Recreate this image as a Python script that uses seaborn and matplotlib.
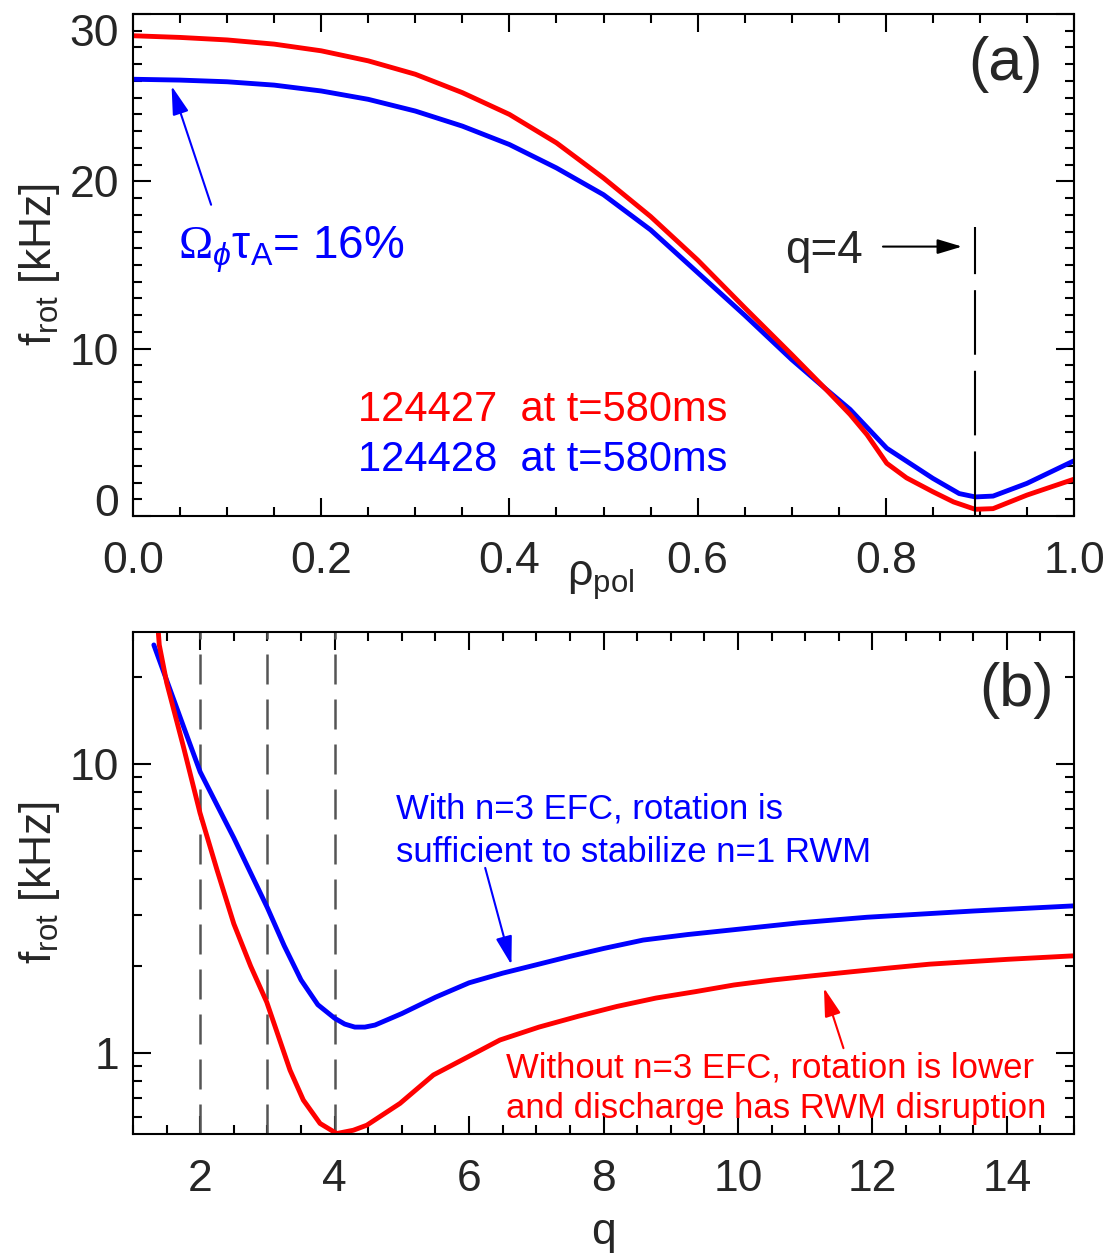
import numpy as np
import pandas as pd
import matplotlib
matplotlib.use("Agg")
import matplotlib.pyplot as plt
import seaborn as sns
from matplotlib.ticker import MultipleLocator, FuncFormatter, NullFormatter, LogLocator

# ---------------- Panel (a): f_rot vs rho_pol ----------------
rho_124427 = [0.00, 0.05, 0.10, 0.15, 0.20, 0.25, 0.30, 0.35, 0.40, 0.45, 0.50,
              0.55, 0.60, 0.65, 0.70, 0.735, 0.762, 0.780, 0.801, 0.822, 0.850,
              0.872, 0.895, 0.914, 0.950, 1.00]
f_124427 = [28.7, 28.6, 28.45, 28.2, 27.8, 27.2, 26.4, 25.3, 24.0, 22.3, 20.2,
            17.9, 15.3, 12.45, 9.65, 7.65, 6.07, 4.86, 3.15, 2.28, 1.45,
            0.84, 0.40, 0.44, 1.25, 2.2]
rho_124428 = [0.00, 0.05, 0.10, 0.15, 0.20, 0.25, 0.30, 0.35, 0.40, 0.45, 0.50,
              0.55, 0.60, 0.65, 0.70, 0.735, 0.762, 0.801, 0.850, 0.878, 0.895,
              0.914, 0.950, 1.00]
f_124428 = [26.1, 26.05, 25.95, 25.75, 25.4, 24.9, 24.2, 23.3, 22.2, 20.8, 19.2,
            17.1, 14.55, 12.0, 9.35, 7.65, 6.37, 4.05, 2.25, 1.34, 1.14,
            1.19, 1.95, 3.3]
rho_q4 = 0.895          # location of q=4 surface
q4_line_top = 17.3

# ---------------- Panel (b): f_rot vs q ----------------
q_124427 = [1.376, 1.391, 1.501, 1.749, 1.997, 2.25, 2.50, 2.75, 2.990, 3.336,
            3.534, 3.783, 4.031, 4.278, 4.478, 4.973, 5.469, 6.00, 6.46, 7.04,
            7.62, 8.20, 8.78, 9.36, 9.94, 10.52, 11.10, 11.68, 12.26, 12.85,
            13.43, 14.01, 15.00]
fq_124427 = [28.7, 25.8, 19.1, 11.5, 6.77, 4.3, 2.8, 2.0, 1.50, 0.873,
             0.688, 0.571, 0.527, 0.541, 0.563, 0.670, 0.840, 0.975, 1.11, 1.23,
             1.34, 1.45, 1.55, 1.63, 1.72, 1.79, 1.85, 1.91, 1.97, 2.03,
             2.07, 2.11, 2.17]
q_124428 = [1.31, 1.50, 1.75, 2.00, 2.25, 2.50, 2.75, 3.00, 3.25, 3.50, 3.75,
            4.00, 4.15, 4.30, 4.45, 4.60, 5.00, 5.50, 6.00, 6.50, 7.00, 7.50,
            8.00, 8.59, 9.25, 9.93, 10.90, 11.92, 13.50, 15.00]
fq_124428 = [25.8, 19.5, 13.5, 9.38, 7.21, 5.55, 4.20, 3.18, 2.35, 1.79, 1.47,
             1.32, 1.26, 1.23, 1.23, 1.25, 1.37, 1.56, 1.75, 1.89, 2.02, 2.16,
             2.30, 2.46, 2.57, 2.67, 2.82, 2.95, 3.10, 3.23]
rational_q = [2, 3, 4]

RED = "#ff0000"
BLUE = "#0000ff"

sns.set_style("ticks")
plt.rcParams["font.family"] = ["Liberation Sans", "DejaVu Sans"]
plt.rcParams["mathtext.fontset"] = "custom"
plt.rcParams["mathtext.rm"] = "Liberation Sans"
plt.rcParams["mathtext.it"] = "Liberation Sans:italic"
plt.rcParams["mathtext.cal"] = "Liberation Serif"
plt.rcParams["axes.linewidth"] = 1.5
plt.rcParams["axes.edgecolor"] = "black"

fig = plt.figure(figsize=(11.11, 12.53), dpi=100)
axA = fig.add_axes([0.11971, 0.58819, 0.84699, 0.40064])
axB = fig.add_axes([0.11971, 0.09497, 0.84699, 0.40064])

dfa27 = pd.DataFrame({"rho": rho_124427, "f": f_124427})
dfa28 = pd.DataFrame({"rho": rho_124428, "f": f_124428})
sns.lineplot(data=dfa28, x="rho", y="f", color=BLUE, lw=3.5, ax=axA, legend=False)
sns.lineplot(data=dfa27, x="rho", y="f", color=RED, lw=3.5, ax=axA, legend=False)
axA.plot([rho_q4, rho_q4], [0, q4_line_top], color="black", lw=1.5,
         dashes=(31, 7.7))

dfr = pd.DataFrame({"q": q_124427, "f": fq_124427})
dfb = pd.DataFrame({"q": q_124428, "f": fq_124428})
for qv in rational_q:
    axB.axvline(qv, color="#555555", lw=1.8, dashes=(12, 6))
sns.lineplot(data=dfb, x="q", y="f", color=BLUE, lw=3.5, ax=axB, legend=False)
sns.lineplot(data=dfr, x="q", y="f", color=RED, lw=3.5, ax=axB, legend=False)

# ---- axes (a)
axA.set_xlim(0, 1)
axA.set_ylim(0, 30)
axA.xaxis.set_major_locator(MultipleLocator(0.2))
axA.xaxis.set_minor_locator(MultipleLocator(0.05))
axA.yaxis.set_major_locator(MultipleLocator(10))
axA.yaxis.set_minor_locator(MultipleLocator(1))
axA.xaxis.set_major_formatter(FuncFormatter(lambda v, p: f"{v:.1f}"))
axA.yaxis.set_major_formatter(FuncFormatter(lambda v, p: f"{v:.0f}"))

# ---- axes (b)
axB.set_yscale("log")
axB.set_xlim(1, 15)
axB.set_ylim(0.525, 28.6)
axB.xaxis.set_major_locator(MultipleLocator(2))
axB.xaxis.set_minor_locator(MultipleLocator(0.5))
axB.yaxis.set_major_locator(LogLocator(base=10))
axB.yaxis.set_minor_locator(LogLocator(base=10, subs=np.arange(2, 10)))
axB.yaxis.set_major_formatter(FuncFormatter(lambda v, p: f"{v:g}"))
axB.yaxis.set_minor_formatter(NullFormatter())

for ax in (axA, axB):
    for s in ax.spines.values():
        s.set_linewidth(1.5)
    ax.tick_params(which="both", direction="in", top=True, right=True,
                   width=1.5, color="black")
    ax.tick_params(which="major", length=13)
    ax.tick_params(which="minor", length=6.5)
    ax.tick_params(axis="both", labelsize=32)
    ax.tick_params(axis="y", pad=10)
    ax.set_ylabel(r"$\mathrm{f}_{\mathrm{rot}}$ [kHz]", fontsize=32)
    ax.yaxis.set_label_coords(-0.075, 0.5)
axA.tick_params(axis="x", pad=18)
axB.tick_params(axis="x", pad=18)

axA.set_xlabel(r"$\mathrm{ρ}_{\mathrm{pol}}$", fontsize=32)
axA.xaxis.set_label_coords(0.497, -0.085)
axB.set_xlabel("q", fontsize=32)
axB.xaxis.set_label_coords(0.5, -0.155)

# ---- annotations (a)
axA.text(0.927, 27.0, "(a)", fontsize=44, ha="center", va="center")
axA.text(0.693, 15.12, "q=4", fontsize=33, ha="left", va="baseline")
axA.annotate("", xy=(0.881, 16.1), xytext=(0.797, 16.1),
             arrowprops=dict(arrowstyle="-|>,head_length=0.6,head_width=0.18",
                             mutation_scale=25, lw=1.5, color="black",
                             shrinkA=0, shrinkB=0))
axA.text(0.048, 15.4, r"$\mathcal{Ω}_{\phi}\mathrm{τ}_{\mathrm{A}}$= 16%",
         color=BLUE, fontsize=33, ha="left", va="baseline")
axA.annotate("", xy=(0.041, 25.7), xytext=(0.083, 18.6),
             arrowprops=dict(arrowstyle="-|>,head_length=0.7,head_width=0.2",
                             mutation_scale=25, lw=1.5, color=BLUE,
                             shrinkA=0, shrinkB=0))
axA.text(0.239, 5.66, "124427  at t=580ms", color=RED, fontsize=30,
         ha="left", va="baseline")
axA.text(0.239, 2.7, "124428  at t=580ms", color=BLUE, fontsize=30,
         ha="left", va="baseline")

# ---- annotations (b)
axB.text(14.14, 17.9, "(b)", fontsize=44, ha="center", va="center")
axB.text(4.914, 6.50, "With n=3 EFC, rotation is", color=BLUE, fontsize=25,
         ha="left", va="baseline")
axB.text(4.914, 4.58, "sufficient to stabilize n=1 RWM", color=BLUE, fontsize=25,
         ha="left", va="baseline")
axB.annotate("", xy=(6.63, 2.02), xytext=(6.24, 4.37),
             arrowprops=dict(arrowstyle="-|>,head_length=0.7,head_width=0.2",
                             mutation_scale=25, lw=1.5, color=BLUE,
                             shrinkA=0, shrinkB=0))
axB.text(6.55, 0.826, "Without n=3 EFC, rotation is lower", color=RED, fontsize=25,
         ha="left", va="baseline")
axB.text(6.55, 0.596, "and discharge has RWM disruption", color=RED, fontsize=25,
         ha="left", va="baseline")
axB.annotate("", xy=(11.28, 1.68), xytext=(11.57, 1.04),
             arrowprops=dict(arrowstyle="-|>,head_length=0.7,head_width=0.2",
                             mutation_scale=25, lw=1.5, color=RED,
                             shrinkA=0, shrinkB=0))

fig.canvas.draw()
for t in axA.yaxis.get_major_ticks():
    lab = t.label1.get_text()
    if lab == "0":
        t.label1.set_verticalalignment("baseline")
    elif lab == "30":
        t.label1.set_verticalalignment("top")

fig.savefig("out.png", dpi=100)
